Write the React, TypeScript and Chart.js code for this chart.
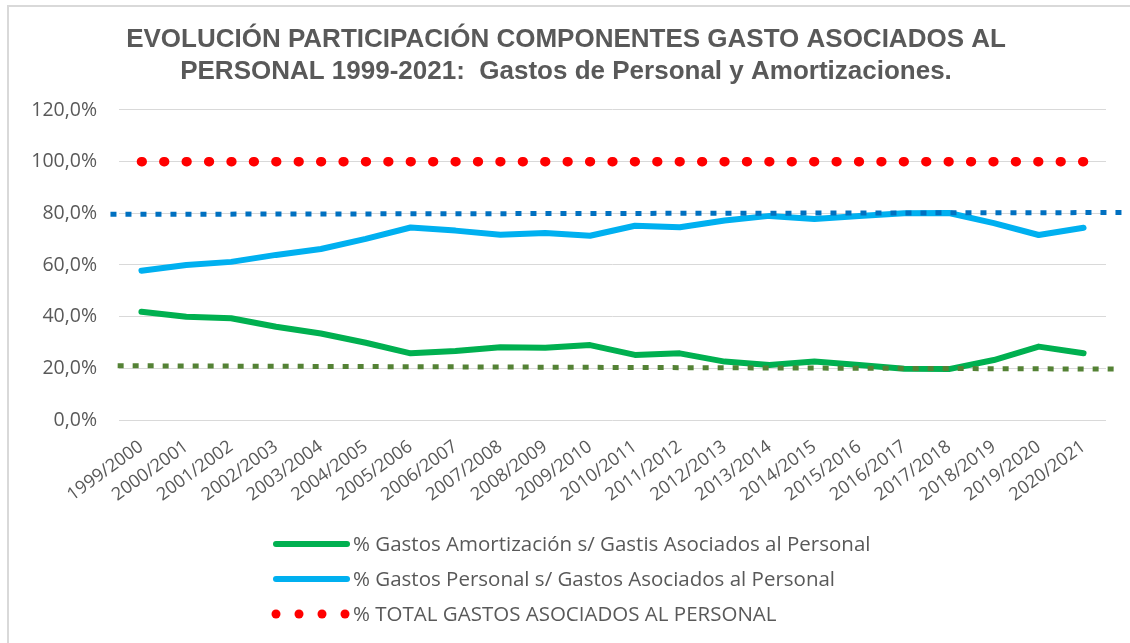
import React, { useEffect, useRef } from "react";
import { Chart, registerables } from "chart.js";

Chart.register(...registerables);

const categories = [
  "1999/2000", "2000/2001", "2001/2002", "2002/2003", "2003/2004", "2004/2005",
  "2005/2006", "2006/2007", "2007/2008", "2008/2009", "2009/2010", "2010/2011",
  "2011/2012", "2012/2013", "2013/2014", "2014/2015", "2015/2016", "2016/2017",
  "2017/2018", "2018/2019", "2019/2020", "2020/2021",
];

const amortizacion = [
  41.9, 40.0, 39.4, 36.1, 33.5, 29.9, 25.8, 26.7, 28.2, 28.0, 29.0,
  25.2, 25.8, 22.6, 21.3, 22.6, 21.3, 19.8, 19.7, 23.2, 28.4, 25.8,
];

const personal = [
  57.8, 60.0, 61.2, 63.9, 66.2, 70.1, 74.5, 73.3, 71.7, 72.4, 71.3,
  75.2, 74.6, 77.2, 79.0, 77.8, 79.0, 80.0, 80.1, 76.2, 71.6, 74.4,
];

const total = [
  100, 100, 100, 100, 100, 100, 100, 100, 100, 100, 100,
  100, 100, 100, 100, 100, 100, 100, 100, 100, 100, 100,
];

// trend lines (x in category-index units)
const trendPersonalX = [-0.69, 22.0];
const trendPersonalY = [79.6, 80.3];
const trendAmortX = [-0.53, 21.76];
const trendAmortY = [21.0, 19.7];

const labelAmort = "% Gastos Amortización s/ Gastis Asociados al Personal";
const labelPersonal = "% Gastos Personal s/ Gastos Asociados al Personal";
const labelTotal = "% TOTAL GASTOS ASOCIADOS AL PERSONAL";

const titleLines = [
  "EVOLUCIÓN PARTICIPACIÓN COMPONENTES GASTO ASOCIADOS AL",
  "PERSONAL 1999-2021:  Gastos de Personal y Amortizaciones.",
];

const TEXT = "#595959";
const GRID = "#D9D9D9";

const framePlugin = {
  id: "frame",
  beforeDraw(chart: any) {
    const ctx = chart.ctx;
    ctx.save();
    ctx.fillStyle = "#ffffff";
    ctx.fillRect(0, 0, chart.width, chart.height);
    ctx.fillStyle = GRID;
    ctx.fillRect(7, 5, 2, chart.height);
    ctx.fillRect(7, 5, chart.width, 2);
    ctx.restore();
  },
};

const legendPlugin = {
  id: "vlegend",
  afterDraw(chart: any) {
    const ctx = chart.ctx;
    const ds = chart.data.datasets;
    const x0 = 276;
    const x1 = 347;
    const tx = 353;
    const rows = [544, 579, 614];
    ctx.save();
    ctx.font = '20.5px "Open Sans"';
    ctx.fillStyle = TEXT;
    ctx.textBaseline = "middle";
    ctx.textAlign = "left";
    for (let i = 0; i < 3; i++) {
      const d = ds[i];
      const y = rows[i];
      if (i < 2) {
        ctx.beginPath();
        ctx.lineCap = "round";
        ctx.strokeStyle = d.borderColor;
        ctx.lineWidth = 6;
        ctx.moveTo(x0, y);
        ctx.lineTo(x1, y);
        ctx.stroke();
      } else {
        ctx.fillStyle = d.borderColor;
        for (let k = 0; k < 4; k++) {
          ctx.beginPath();
          ctx.arc(x0 + k * 23, y, 4.5, 0, Math.PI * 2);
          ctx.fill();
        }
        ctx.fillStyle = TEXT;
      }
      ctx.fillText(d.label, tx, y + 1);
    }
    ctx.restore();
  },
};

// dotted pattern: one dot per half category, derived from the scale width
const halfCategoryDash = (c: any) => {
  const area = c.chart.chartArea;
  const n = c.chart.data.labels.length;
  const half = area ? area.width / n / 2 - 0.02 : 22.4;
  return [0.8, half - 0.8];
};

export default function App() {
  const ref = useRef<HTMLCanvasElement | null>(null);

  useEffect(() => {
    const canvas = ref.current;
    if (!canvas) return;
    const chart = new Chart(canvas, {
      type: "line",
      data: {
        labels: categories,
        datasets: [
          {
            label: labelAmort,
            data: amortizacion,
            borderColor: "#00B050",
            backgroundColor: "#00B050",
            borderWidth: 6,
            pointRadius: 0,
            tension: 0,
            borderCapStyle: "round",
            borderJoinStyle: "round",
            order: 2,
          },
          {
            label: labelPersonal,
            data: personal,
            borderColor: "#00B0F0",
            backgroundColor: "#00B0F0",
            borderWidth: 6,
            pointRadius: 0,
            tension: 0,
            borderCapStyle: "round",
            borderJoinStyle: "round",
            order: 2,
          },
          {
            label: labelTotal,
            data: total,
            borderColor: "#FF0000",
            backgroundColor: "#FF0000",
            borderWidth: 9.5,
            borderDash: halfCategoryDash,
            borderCapStyle: "round",
            pointRadius: 0,
            tension: 0,
            clip: false,
            order: 1,
          },
          {
            label: "Tendencia personal",
            data: trendPersonalX.map((x, i) => ({ x, y: trendPersonalY[i] })),
            xAxisID: "x2",
            borderColor: "#0070C0",
            borderWidth: 5,
            borderDash: [6, 9],
            borderCapStyle: "butt",
            pointRadius: 0,
            clip: false,
            order: 0,
          },
          {
            label: "Tendencia amortización",
            data: trendAmortX.map((x, i) => ({ x, y: trendAmortY[i] })),
            xAxisID: "x2",
            borderColor: "#548235",
            borderWidth: 5,
            borderDash: [6, 9],
            borderCapStyle: "butt",
            pointRadius: 0,
            clip: false,
            order: 0,
          },
        ],
      },
      options: {
        responsive: false,
        animation: false,
        events: [],
        layout: { padding: { top: 8, left: 26, right: 24, bottom: 123 } },
        plugins: {
          legend: { display: false },
          tooltip: { enabled: false },
          title: {
            display: true,
            text: titleLines,
            color: TEXT,
            font: { family: '"Liberation Sans", Arial, sans-serif', size: 26, weight: "bold", lineHeight: 1.23 },
            padding: { top: 16, bottom: 22 },
          },
        },
        scales: {
          x: {
            type: "category",
            offset: true,
            grid: { display: false, drawTicks: false },
            border: { display: false },
            ticks: {
              autoSkip: false,
              maxRotation: 36,
              minRotation: 36,
              padding: 16,
              color: TEXT,
              font: { family: '"Open Sans", sans-serif', size: 18 },
            },
            afterFit(scale: any) {
              scale.height = 100;
            },
          },
          x2: {
            type: "linear",
            display: false,
            min: -0.5,
            max: 21.5,
          },
          y: {
            min: 0,
            max: 120,
            grid: { color: GRID, lineWidth: 1, drawTicks: false },
            border: { display: false },
            ticks: {
              stepSize: 20,
              padding: 22,
              color: TEXT,
              font: { family: '"Open Sans", sans-serif', size: 19.5 },
              callback: (v: any) => Number(v).toFixed(1).replace(".", ",") + "%",
            },
            afterFit(scale: any) {
              scale.width = 93;
            },
          },
        },
      },
      plugins: [framePlugin, legendPlugin],
    } as any);
    return () => chart.destroy();
  }, []);

  return (
    <div style={{ position: "fixed", left: 0, top: 0, width: 1130, height: 643, background: "#fff" }}>
      <canvas ref={ref} width={1130} height={643} style={{ display: "block", width: 1130, height: 643 }} />
    </div>
  );
}
